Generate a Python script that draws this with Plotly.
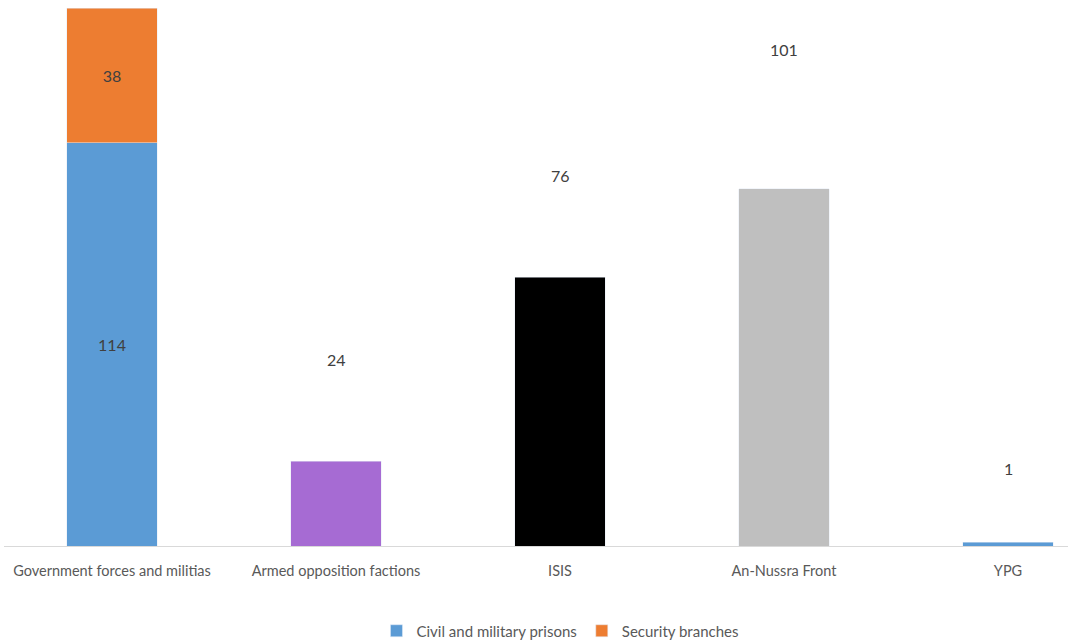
import plotly.graph_objects as go

categories = ["Government forces and militias", "Armed opposition factions", "ISIS", "An-Nussra Front", "YPG"]
civil_values = [114]
security_values = [38]
other_categories = ["Armed opposition factions", "ISIS", "An-Nussra Front", "YPG"]
other_values = [24, 76, 101, 1]
other_colors = ["#A66BD3", "#000000", "#BFBFBF", "#5B9BD5"]
# where Excel placed the data labels of the single bars (in axis units)
other_label_y = [52.6, 104.8, 140.4, 22.0]

W, H = 1068, 643
ml, mt, mb = 4, 8, 97
cat_w = 224.0
x0 = -0.5 + ml / cat_w
x1 = -0.5 + W / cat_w
plot_h = H - mt - mb

fig = go.Figure()
fig.add_bar(x=[categories[0]], y=civil_values, name="Civil and military prisons",
            marker_color="#5B9BD5", text=[str(v) for v in civil_values],
            textposition="inside", insidetextanchor="middle",
            textfont=dict(color="#404040", size=16), textangle=0)
fig.add_bar(x=[categories[0]], y=security_values, name="Security branches",
            marker_color="#ED7D31", text=[str(v) for v in security_values],
            textposition="inside", insidetextanchor="middle",
            textfont=dict(color="#404040", size=16), textangle=0)
fig.add_bar(x=other_categories, y=other_values, marker_color=other_colors,
            showlegend=False, hoverinfo="x+y")

for c, v, ly in zip(other_categories, other_values, other_label_y):
    fig.add_annotation(x=c, y=ly, text=str(v), showarrow=False,
                       font=dict(color="#404040", size=16), xref="x", yref="y")

fig.update_layout(
    width=W, height=H,
    barmode="stack", bargap=0.598,
    margin=dict(l=ml, r=0, t=mt, b=mb, autoexpand=False),
    paper_bgcolor="white", plot_bgcolor="white",
    font=dict(family="Lato, Carlito, Calibri, sans-serif", color="#595959", size=13),
    xaxis=dict(categoryorder="array", categoryarray=categories, range=[x0, x1],
               showline=True, linecolor="#D9D9D9", linewidth=1,
               ticks="outside", ticklen=12, tickcolor="rgba(0,0,0,0)",
               showgrid=False, tickfont=dict(size=14.5, color="#595959"),
               automargin=False),
    yaxis=dict(range=[0, 152], visible=False, showgrid=False, zeroline=False,
               automargin=False),
    legend=dict(orientation="h", x=0.523, xanchor="center", y=-85 / plot_h, yanchor="middle",
                traceorder="normal", font=dict(size=15, color="#595959")),
)

fig.write_html("out.html")
